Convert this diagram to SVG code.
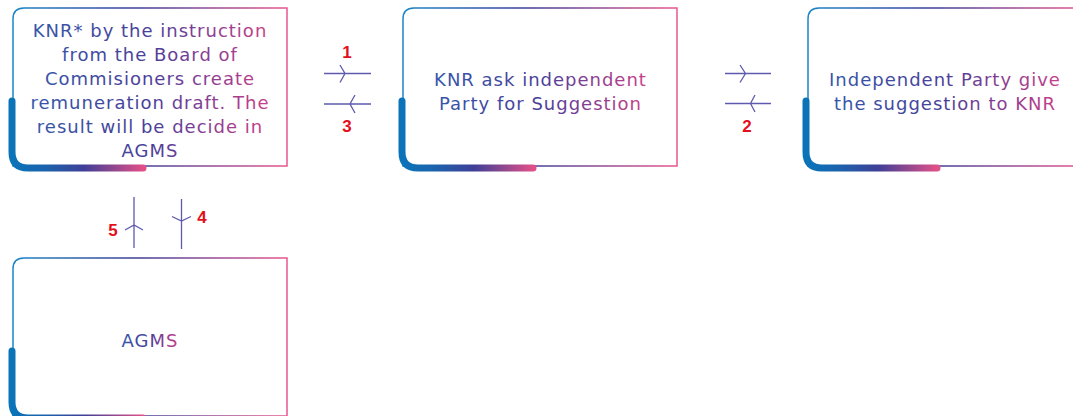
<svg xmlns="http://www.w3.org/2000/svg" width="1073" height="416" viewBox="0 0 1073 416">
<defs>
<linearGradient id="thin" x1="0" y1="0" x2="1" y2="0">
<stop offset="0" stop-color="#1a86c8"/>
<stop offset="0.45" stop-color="#3d3f98"/>
<stop offset="1" stop-color="#e8568e"/>
</linearGradient>
<linearGradient id="thick" x1="0" y1="0" x2="1" y2="0">
<stop offset="0" stop-color="#0b74b9"/>
<stop offset="0.25" stop-color="#1a63ad"/>
<stop offset="0.55" stop-color="#3f3f97"/>
<stop offset="1" stop-color="#e05088"/>
</linearGradient>
<linearGradient id="txt" x1="0" y1="0" x2="1" y2="0">
<stop offset="0" stop-color="#3657a8"/>
<stop offset="0.5" stop-color="#4a3f98"/>
<stop offset="1" stop-color="#c9408a"/>
</linearGradient>
</defs>
<style>
.thin{fill:none;stroke:url(#thin);stroke-width:1.5}
.thick{fill:none;stroke:url(#thick);stroke-width:7;stroke-linecap:round}
.t{font-family:"DejaVu Sans","Open Sans",sans-serif;font-size:18px;letter-spacing:1px;fill:url(#txt);text-anchor:middle}
.c{fill:none;stroke:#5e5aae;stroke-width:1.3}
.n{font-family:"Liberation Sans",Arial,sans-serif;font-weight:bold;font-size:17px;fill:#e3101c;text-anchor:middle}
</style>
<g id="node1">
<path class="thin" d="M287 166 L287 8 L24 8 Q13 8 13 19 L13 166 Z"/>
<path class="thick" d="M12 101 L12 152 Q12 168 28 168 L143 168"/>
<text class="t"><tspan x="150" y="37">KNR* by the instruction</tspan><tspan x="150" y="61">from the Board of</tspan><tspan x="150" y="85">Commisioners create</tspan><tspan x="150" y="109">remuneration draft. The</tspan><tspan x="150" y="133">result will be decide in</tspan><tspan x="150" y="157">AGMS</tspan></text>
</g>
<g id="node2">
<path class="thin" d="M677 166 L677 8 L414 8 Q403 8 403 19 L403 166 Z"/>
<path class="thick" d="M402 101 L402 152 Q402 168 418 168 L533 168"/>
<text class="t"><tspan x="540.5" y="86">KNR ask independent</tspan><tspan x="540.5" y="110">Party for Suggestion</tspan></text>
</g>
<g id="node3">
<path class="thin" d="M1083 166 L1083 8 L819 8 Q808 8 808 19 L808 166 Z"/>
<path class="thick" d="M806 101 L806 152 Q806 168 822 168 L937 168"/>
<text class="t"><tspan x="945" y="86">Independent Party give</tspan><tspan x="945" y="110">the suggestion to KNR</tspan></text>
</g>
<g id="node4">
<path class="thin" d="M287 416 L287 258 L24 258 Q13 258 13 269 L13 416 Z"/>
<path class="thick" d="M12 351 L12 402 Q12 418 28 418 L143 418"/>
<text class="t"><tspan x="150" y="347">AGMS</tspan></text>
</g>
<g id="connectors">
<path class="c" d="M324 73.5 H371 M340 65 L345 73.5 L340 82.5"/>
<path class="c" d="M324 104 H371 M355 95 L350 104 L355 113"/>
<path class="c" d="M725 73.5 H771 M740 65 L745.5 73.5 L740 82.5"/>
<path class="c" d="M725 103.5 H771 M755 95 L750.5 103.5 L755 112"/>
<path class="c" d="M134 197 V248 M125 230 L134 225 L143 230"/>
<path class="c" d="M181.5 199 V249 M172 216.5 L181.5 221 L191 216.5"/>
<text class="n" x="347" y="58">1</text>
<text class="n" x="347" y="132">3</text>
<text class="n" x="747" y="132">2</text>
<text class="n" x="113" y="236">5</text>
<text class="n" x="202" y="223">4</text>
</g>
</svg>
